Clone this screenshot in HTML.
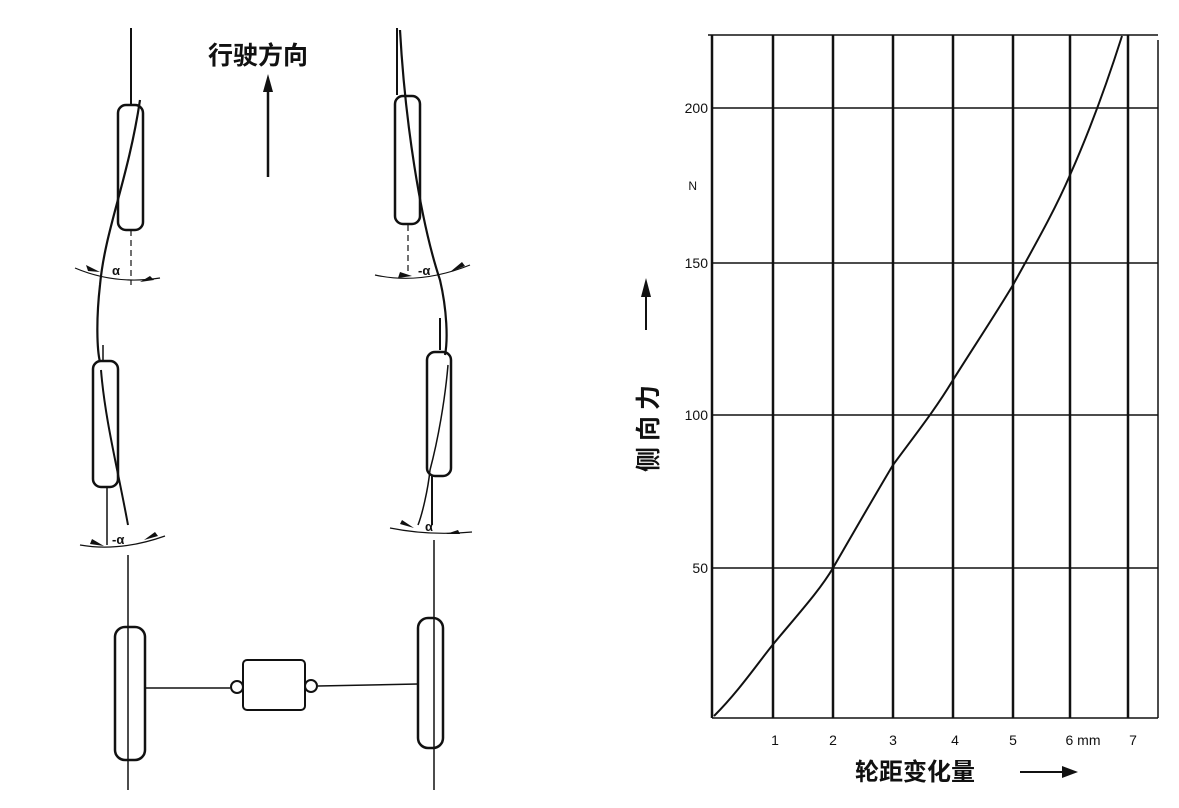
<!DOCTYPE html>
<html><head><meta charset="utf-8"><style>
html,body{margin:0;padding:0;background:#fff;}
svg{display:block;}
text{font-family:"Liberation Sans","Noto Sans CJK SC",sans-serif;fill:#111;}
</style></head><body>
<svg width="1179" height="808" viewBox="0 0 1179 808" xmlns="http://www.w3.org/2000/svg">
<g stroke="#111" fill="none" stroke-width="2">
<line x1="131" y1="28" x2="131" y2="105"/>
<line x1="131" y1="230" x2="131" y2="285" stroke-dasharray="6,4" stroke-width="1.2"/>
<line x1="103" y1="345" x2="103" y2="362" stroke-width="1.5"/>
<line x1="107" y1="487" x2="107" y2="545" stroke-width="1.5"/>
<line x1="128" y1="555" x2="128" y2="790" stroke-width="1.5"/>
<path d="M140,100 C128,180 105,230 100,285 C96,320 97,350 100,362" stroke-width="2.2"/>
<path d="M101,370 C105,420 118,470 128,525" stroke-width="2"/>
<rect x="118" y="105" width="25" height="125" rx="8" stroke-width="2.5"/>
<rect x="93" y="361" width="25" height="126" rx="8" stroke-width="2.5"/>
<rect x="115" y="627" width="30" height="133" rx="10" stroke-width="2.5"/>
<line x1="397" y1="28" x2="397" y2="95"/>
<path d="M400,30 C405,120 420,220 440,280 C447,310 448,340 445,355" stroke-width="2.2"/>
<line x1="408" y1="225" x2="408" y2="275" stroke-dasharray="6,4" stroke-width="1.2"/>
<line x1="440" y1="318" x2="440" y2="350" stroke-width="2"/>
<path d="M448,365 C445,400 438,440 430,470 C428,490 422,515 418,525" stroke-width="1.5"/>
<line x1="432" y1="475" x2="432" y2="525" stroke-width="2"/>
<line x1="434" y1="540" x2="434" y2="790" stroke-width="1.5"/>
<rect x="395" y="96" width="25" height="128" rx="8" stroke-width="2.5"/>
<rect x="427" y="352" width="24" height="124" rx="8" stroke-width="2.5"/>
<rect x="418" y="618" width="25" height="130" rx="10" stroke-width="2.5"/>
<path d="M75,268 Q115,285 160,278" stroke-width="1.2"/>
<path d="M375,275 Q420,285 470,265" stroke-width="1.2"/>
<path d="M80,545 Q120,552 165,536" stroke-width="1.2"/>
<path d="M390,528 Q430,536 472,532" stroke-width="1.2"/>
<line x1="145" y1="688" x2="230" y2="688" stroke-width="1.5"/>
<line x1="318" y1="686" x2="418" y2="684" stroke-width="1.5"/>
<circle cx="237" cy="687" r="6" stroke-width="2"/>
<circle cx="311" cy="686" r="6" stroke-width="2"/>
<rect x="243" y="660" width="62" height="50" rx="4" stroke-width="2"/>
<line x1="268" y1="177" x2="268" y2="88" stroke-width="2.5"/>
</g>
<g fill="#111">
<polygon points="268,74 263,92 273,92"/>
<polygon points="100,272 86,265 88,271"/><polygon points="140,282 154,280 150,276"/>
<polygon points="412,276 398,278 400,272"/><polygon points="450,272 465,266 462,262"/>
<polygon points="104,546 90,544 92,539"/><polygon points="144,540 158,536 155,532"/>
<polygon points="414,528 400,524 402,520"/><polygon points="446,534 460,534 458,530"/>
</g>
<text x="208" y="64" font-size="25" font-weight="bold">行驶方向</text>
<g font-size="13" font-weight="bold">
<text x="112" y="275">α</text><text x="418" y="275">-α</text>
<text x="112" y="544">-α</text><text x="425" y="531">α</text>
</g>
<g stroke="#111" stroke-width="2.5" fill="none">
<line x1="712" y1="35" x2="712" y2="718"/>
<line x1="773" y1="35" x2="773" y2="718"/>
<line x1="833" y1="35" x2="833" y2="718"/>
<line x1="893" y1="35" x2="893" y2="718"/>
<line x1="953" y1="35" x2="953" y2="718"/>
<line x1="1013" y1="35" x2="1013" y2="718"/>
<line x1="1070" y1="35" x2="1070" y2="718"/>
<line x1="1128" y1="35" x2="1128" y2="718"/>
<line x1="1158" y1="40" x2="1158" y2="718" stroke-width="1.5"/>
<line x1="708" y1="35" x2="1158" y2="35" stroke-width="1.5"/>
<line x1="712" y1="108" x2="1158" y2="108" stroke-width="1.5"/>
<line x1="712" y1="263" x2="1158" y2="263" stroke-width="1.5"/>
<line x1="712" y1="415" x2="1158" y2="415" stroke-width="1.5"/>
<line x1="712" y1="568" x2="1158" y2="568" stroke-width="1.5"/>
<line x1="712" y1="718" x2="1158" y2="718" stroke-width="1.5"/>
<path d="M714,716 C740,690 760,660 775,642 C800,612 820,590 833,568 C855,530 875,495 893,465 C915,435 935,410 953,380 C975,345 995,315 1013,285 C1035,245 1055,210 1070,175 C1090,130 1108,80 1122,36" stroke-width="2"/>
</g>
<g font-size="14" text-anchor="end">
<text x="708" y="113">200</text><text x="708" y="268">150</text>
<text x="708" y="420">100</text><text x="708" y="573">50</text>
<text x="697" y="190" font-size="12">N</text>
</g>
<g font-size="14" text-anchor="middle">
<text x="775" y="745">1</text><text x="833" y="745">2</text><text x="893" y="745">3</text>
<text x="955" y="745">4</text><text x="1013" y="745">5</text><text x="1083" y="745">6 mm</text><text x="1133" y="745">7</text>
</g>
<text x="855" y="780" font-size="24" font-weight="bold">轮距变化量</text>
<line x1="1020" y1="772" x2="1065" y2="772" stroke="#111" stroke-width="2"/>
<polygon points="1078,772 1062,766 1062,778" fill="#111"/>
<text transform="translate(657,472) rotate(-90)" font-size="25" font-weight="bold" letter-spacing="6">侧向力</text>
<line x1="646" y1="330" x2="646" y2="295" stroke="#111" stroke-width="2"/>
<polygon points="646,278 641,297 651,297" fill="#111"/>
</svg>
</body></html>
